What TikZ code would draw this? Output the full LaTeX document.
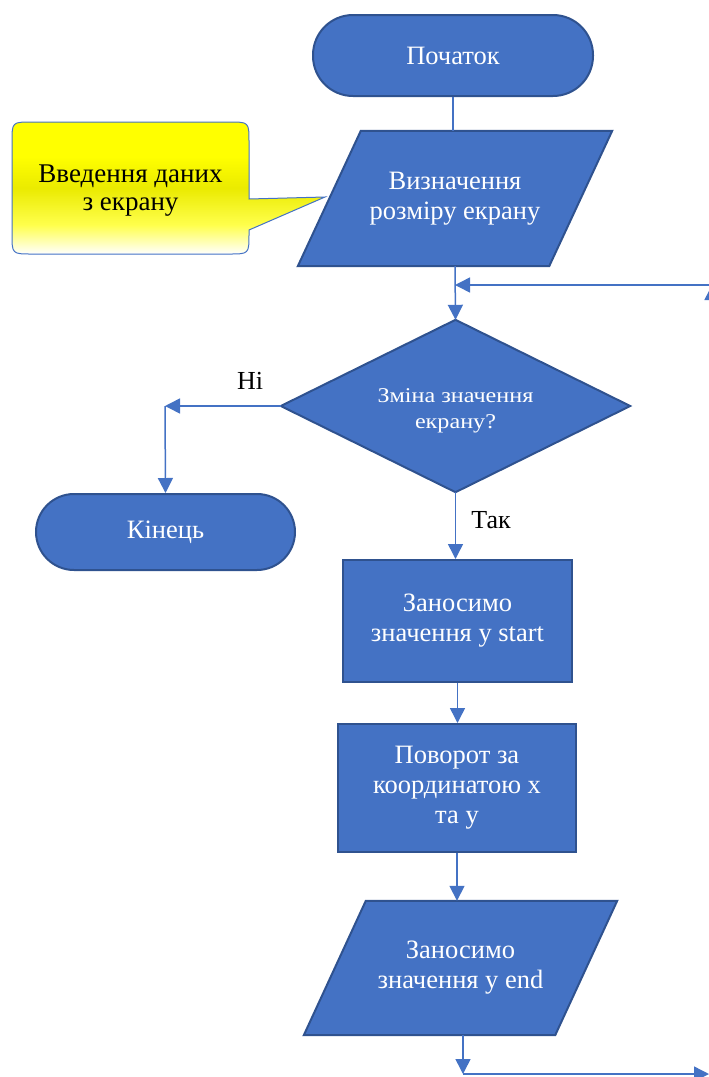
\documentclass[tikz,border=0pt]{standalone}
\usepackage{fontspec}
\setmainfont{Liberation Serif}
\newfontfamily\dfont[FakeStretch=1.15]{Liberation Serif}
\usetikzlibrary{arrows.meta,backgrounds}
\definecolor{fillblue}{HTML}{4472C4}
\definecolor{edgeblue}{HTML}{2F528F}
\definecolor{lineblue}{HTML}{4472C4}
\pgfdeclareverticalshading{callshade}{100bp}{color(0bp)=(white); color(25bp)=(white); color(36bp)=(yellow!70!white); color(50bp)=(yellow!92!black); color(62bp)=(yellow); color(100bp)=(yellow)}
\tikzset{
  shapetext/.style={text=white, align=center, inner sep=0pt, font=\fontsize{26.5}{30}\selectfont},
  term/.style={shapetext, fill=fillblue, draw=edgeblue, line width=2pt, rounded corners=37pt},
  procbox/.style={shapetext, fill=fillblue, draw=edgeblue, line width=2pt},
  holder/.style={shapetext},
  blk/.style={fill=fillblue, draw=edgeblue, line width=2pt, line join=miter},
  arr/.style={draw=lineblue, line width=1.5pt, -{Triangle[length=15pt,width=15pt]}},
  plain/.style={draw=lineblue, line width=1.5pt},
  lbl/.style={text=black, inner sep=0pt, font=\fontsize{26}{30}\selectfont},
}
\begin{document}
\begin{tikzpicture}[x=1pt,y=-1pt]
\useasboundingbox (0,0) rectangle (709,1077);
\begin{scope}
\clip (0,0) rectangle (709,1077);

% start
\node[term, minimum width=280pt, minimum height=81pt, rounded corners=40pt] (start) at (453,55.5) {Початок};

% parallelogram 1 (text node, outline drawn from its corners)
\node[holder, minimum width=251pt, minimum height=135pt] (p1) at (455,198.5) {\raisebox{-1pt}{Визначення}\\\raisebox{-1pt}{розміру екрану}};
\begin{pgfonlayer}{background}
\path[blk] ([xshift=31.5pt]p1.north west) -- ([xshift=31.5pt]p1.north east) -- ([xshift=-31.5pt]p1.south east) -- ([xshift=-31.5pt]p1.south west) -- cycle;
\end{pgfonlayer}

% callout
\node[lbl, align=center, font=\fontsize{27}{28}\selectfont, minimum width=237pt, minimum height=126pt] (co) at (130.5,191) {Введення даних\\з екрану};
\begin{pgfonlayer}{background}
\path[shade, shading=callshade, draw=lineblue, line width=1pt]
  (12,142) .. controls (12,122) .. (32,122) -- (229,122) .. controls (249,122) .. (249,142)
  -- (249,199) -- (325,197) -- (249,230) -- (249,234) .. controls (249,254) .. (229,254)
  -- (32,254) .. controls (12,254) .. (12,234) -- cycle;
\end{pgfonlayer}

% decision
\node[holder, minimum width=349pt, minimum height=172pt] (d) at (455.5,406) {};
\node[holder, font=\dfont\fontsize{21}{26}\selectfont] (dq) at ([yshift=-5pt]d.center) {Зміна значення\\екрану?};
\begin{pgfonlayer}{background}
\path[blk] (d.north) -- (d.east) -- (d.south) -- (d.west) -- cycle;
\end{pgfonlayer}

% end
\node[term, minimum width=259pt, minimum height=76pt, rounded corners=38pt] (end) at (165.5,532) {Кінець};

% process boxes
\node[procbox, minimum width=229pt, minimum height=122pt] (r1) at (457.5,621) {Заносимо\\значення у start};
\node[procbox, minimum width=238pt, minimum height=128pt] (r2) at (457,788) {Поворот за\\координатою х\\та у};

% parallelogram 2
\node[holder, minimum width=251pt, minimum height=134pt] (p2) at (460.5,968) {\raisebox{-1pt}{Заносимо}\\\raisebox{-1pt}{значення у end}};
\begin{pgfonlayer}{background}
\path[blk] ([xshift=31pt]p2.north west) -- ([xshift=31pt]p2.north east) -- ([xshift=-31pt]p2.south east) -- ([xshift=-31pt]p2.south west) -- cycle;
\end{pgfonlayer}

% labels
\node[lbl] (ni) at (250,381) {Ні};
\node[lbl] (tak) at (491,520) {Так};

% coordinates
\coordinate (jn) at (455,285);
\coordinate (rtop) at (712,285);
\coordinate (nl) at (165,406);
\coordinate (bj) at (463,1074);
\coordinate (br) at (709,1074);
\coordinate (rbot) at (712,1074);

% connectors
\draw[plain] (start.south) -- (start.south |- p1.north);
\draw[arr] (p1.south) -- (d.north);
\draw[arr] (rtop) -- (jn);
\draw[arr] (rbot) -- (rtop);
\draw[arr] (d.west) -- (nl);
\draw[arr] (nl) -- (end.north);
\draw[arr] (d.south) -- (d.south |- r1.north);
\draw[arr] (r1.south) -- (r1.south |- r2.north);
\draw[arr] (r2.south) -- (r2.south |- p2.north);
\draw[arr] (bj |- p2.south) -- (bj);
\draw[arr] (bj) -- (br);
\end{scope}
\end{tikzpicture}
\end{document}
